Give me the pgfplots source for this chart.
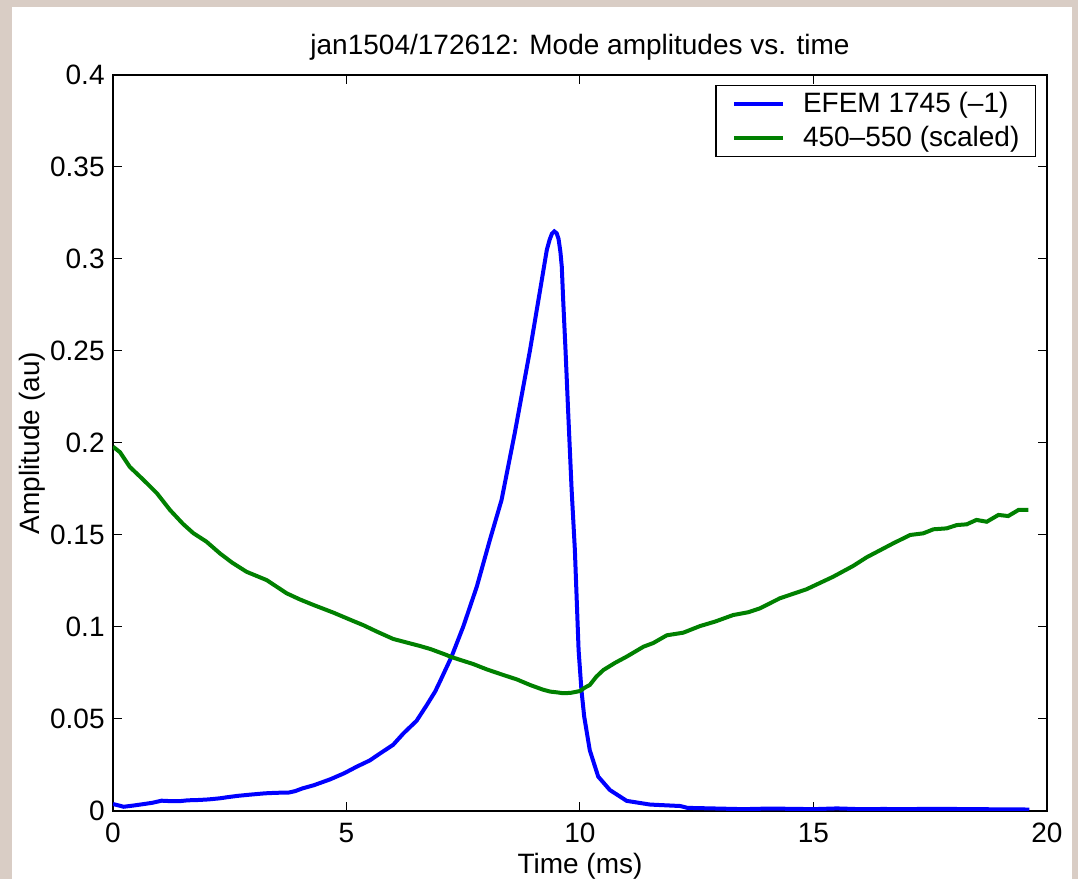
\documentclass[border=0pt]{standalone}
\usepackage{fontspec}
\setmainfont{Liberation Sans}
\usepackage{pgfplots}
\pgfplotsset{compat=1.18}
\definecolor{figbg}{RGB}{217,205,197}
\definecolor{mblue}{RGB}{0,0,255}
\definecolor{mgreen}{RGB}{0,128,0}
\begin{document}
\begin{tikzpicture}[font=\fontsize{14}{17}\selectfont]
\fill[figbg] (-56.5pt,-34pt) rectangle (482.5pt,405.5pt);
\fill[white] (-50.5pt,-34pt) rectangle (479.5pt,402pt);
\begin{axis}[
  at={(0,0)}, anchor=south west,
  scale only axis, width=467pt, height=368pt,
  clip mode=individual,
  xmin=0, xmax=20, ymin=0, ymax=0.4,
  xtick={0,5,10,15,20},
  ytick={0,0.05,0.1,0.15,0.2,0.25,0.3,0.35,0.4},
  yticklabels={0,0.05,0.1,0.15,0.2,0.25,0.3,0.35,0.4},
  xticklabels={0,5,10,15,20},
  /pgf/number format/assume math mode=true,
  tick align=inside,
  major tick length=4.7pt,
  every tick/.style={black, line width=0.5pt},
  axis line style={line width=0.9pt},
  xticklabel style={anchor=base, yshift=-16pt, inner sep=0pt},
  yticklabel style={anchor=east, xshift=-4pt, inner sep=0pt},
  title={jan1504/172612: Mode amplitudes vs. time},
  title style={at={(axis description cs:0.5,1)}, anchor=base, yshift=4pt, inner sep=0pt},
  xlabel={Time (ms)},
  xlabel style={at={(axis description cs:0.5,0)}, anchor=base, yshift=-31.5pt, inner sep=0pt},
  legend style={at={(axis description cs:1,1)}, anchor=north east, xshift=-5.5pt, yshift=-5pt,
     draw=black, line width=0.6pt, inner xsep=8pt, inner ysep=2pt,
     row sep=2pt, column sep=9pt,
     font=\fontsize{14}{17}\selectfont,
     nodes={inner xsep=0pt, inner ysep=1.5pt}},
  legend cell align=left,
  legend image code/.code={\draw[#1, line width=2pt] (0pt,0pt) -- (24.5pt,0pt);},
]
\addplot[mblue, line width=2pt] coordinates {
(0,0.0038) (0.23,0.0023) (0.45,0.003) (0.67,0.0038) (0.85,0.0045) (1.04,0.0056)
(1.2,0.0054) (1.41,0.0053) (1.6,0.0058) (1.85,0.006) (2.05,0.0063) (2.29,0.0069)
(2.45,0.0075) (2.66,0.0082) (2.9,0.0088) (3.25,0.0096) (3.5,0.0099) (3.76,0.0100)
(3.9,0.0108) (4.06,0.0123) (4.3,0.0140) (4.65,0.0172) (4.95,0.0205) (5.22,0.0241)
(5.5,0.0275) (5.72,0.0313) (6.0,0.036) (6.22,0.0422) (6.5,0.049) (6.72,0.0576)
(6.9,0.065) (7.0,0.0703) (7.25,0.0839) (7.5,0.1002) (7.79,0.1219) (8.07,0.1473)
(8.32,0.169) (8.6,0.205) (8.93,0.2505) (9.11,0.2777) (9.29,0.305) (9.35,0.3105)
(9.40,0.3138) (9.45,0.3150) (9.50,0.3140) (9.54,0.3110) (9.58,0.3040) (9.61,0.2958)
(9.64,0.2777) (9.69,0.2505)
(9.75,0.215) (9.82,0.175) (9.89,0.142) (9.97,0.0875) (10.03,0.066) (10.09,0.0513)
(10.21,0.033) (10.39,0.0187) (10.64,0.0114) (11.0,0.0055) (11.5,0.0035) (12.15,0.0027)
(12.3,0.0017) (13,0.0013) (13.5,0.0010) (14,0.0013) (14.5,0.0012) (15,0.0010)
(15.5,0.0014) (16,0.0010) (16.5,0.0011) (17,0.0010) (17.5,0.0012) (18,0.0011)
(18.5,0.0010) (19,0.0009) (19.62,0.0008)
};
\addlegendentry{EFEM 1745 (--1)}
\addplot[mgreen, line width=2pt] coordinates {
(0,0.198) (0.15,0.195) (0.36,0.187) (0.65,0.180) (0.94,0.1727) (1.22,0.1636)
(1.5,0.156) (1.72,0.151) (2.0,0.1464) (2.29,0.140) (2.55,0.135) (2.86,0.130)
(3.29,0.1255) (3.72,0.1183) (4.0,0.115) (4.29,0.112) (4.72,0.1078) (5.14,0.1033)
(5.36,0.101) (5.65,0.0975) (6.0,0.0935) (6.3,0.0915) (6.57,0.0897) (6.8,0.0880)
(7.14,0.0848) (7.22,0.0839) (7.45,0.082) (7.71,0.0799) (8.0,0.077) (8.36,0.0739)
(8.65,0.0715) (8.93,0.0685) (9.2,0.066) (9.36,0.0649) (9.5,0.0645) (9.64,0.064)
(9.8,0.0642) (10.0,0.0652) (10.1,0.067) (10.21,0.0685) (10.35,0.073) (10.5,0.0766)
(10.75,0.0805) (11.0,0.0839) (11.36,0.0893) (11.57,0.0913) (11.86,0.0955) (12.21,0.0969)
(12.57,0.1005) (12.9,0.103) (13.28,0.1065) (13.6,0.108) (13.85,0.1101) (14.28,0.1156)
(14.85,0.1205) (15.42,0.1273) (15.85,0.1332) (16.14,0.1379) (16.71,0.1455) (17.07,0.15)
(17.35,0.1509) (17.57,0.1531) (17.85,0.1536) (18.07,0.1554) (18.28,0.1558) (18.49,0.1582)
(18.71,0.1572) (18.96,0.1609) (19.17,0.1603) (19.39,0.1636) (19.6,0.1636)
};
\addlegendentry{450--550 (scaled)}
\path (rel axis cs:0,0.5) ++(-36.5pt,0pt) node[rotate=90, anchor=base, inner sep=0pt] {Amplitude (au)};
\end{axis}
\pgfresetboundingbox
\useasboundingbox (-56.5pt,-34pt) rectangle (482.5pt,405.5pt);
\end{tikzpicture}
\end{document}
